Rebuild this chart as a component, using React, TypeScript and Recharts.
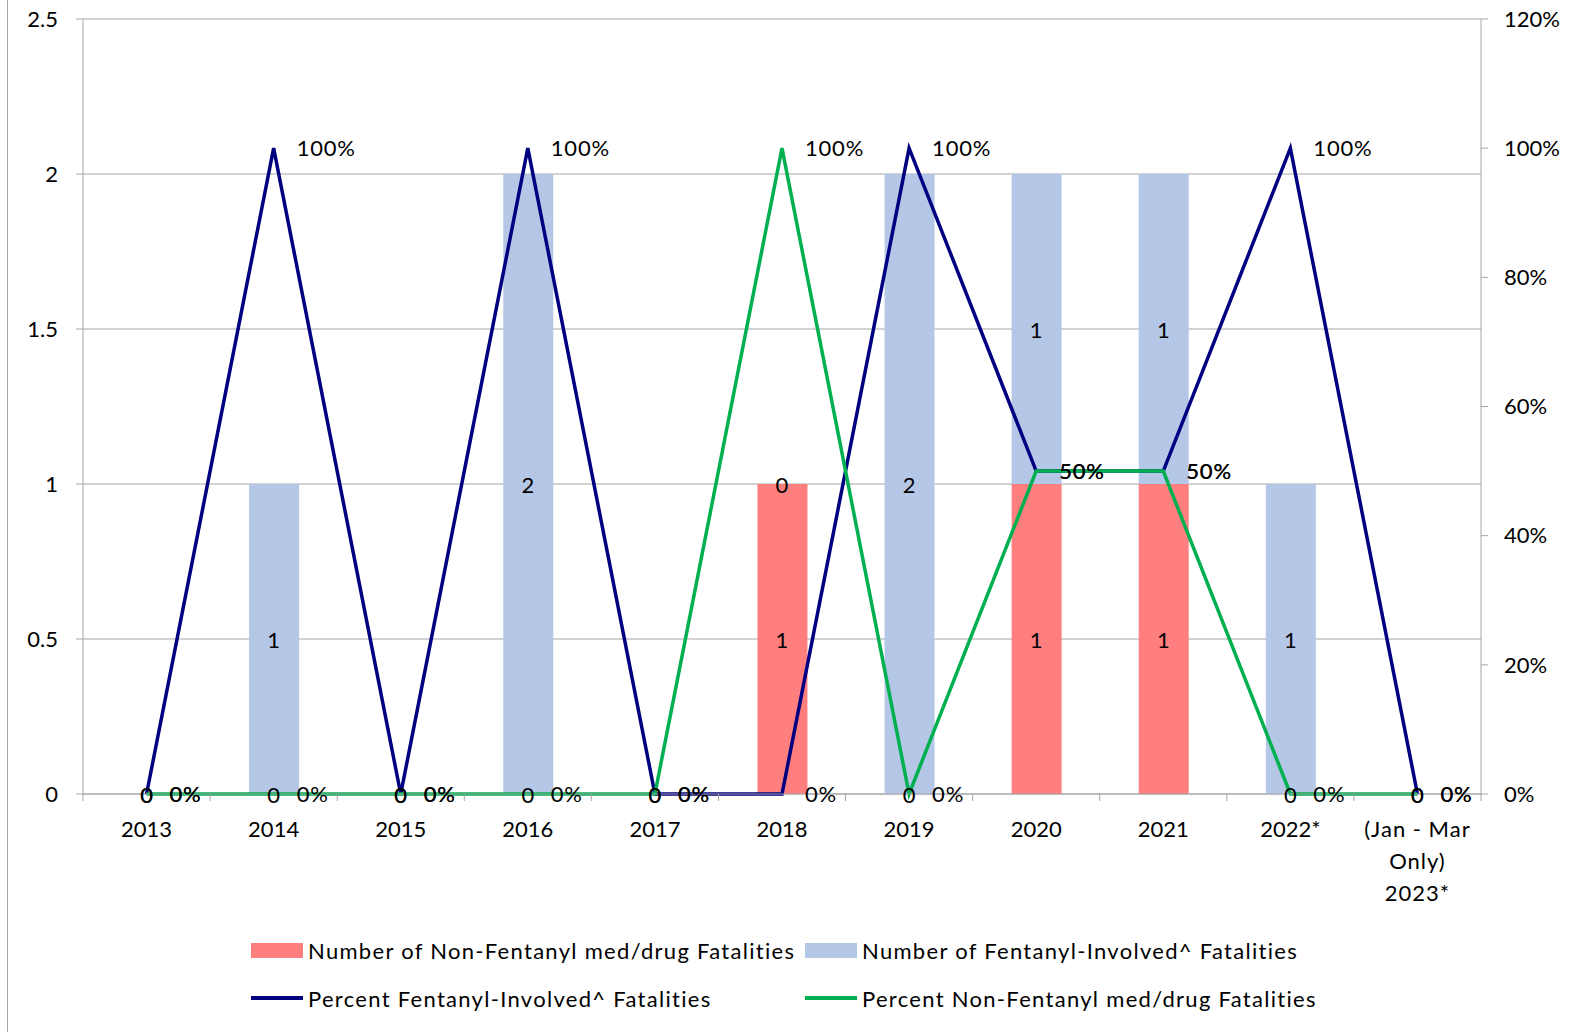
import React from 'react';
import {
  ComposedChart,
  Bar,
  Line,
  XAxis,
  YAxis,
  CartesianGrid,
  LabelList,
} from 'recharts';

// categories and series
const years = ['2013', '2014', '2015', '2016', '2017', '2018', '2019', '2020', '2021', '2022*', '(Jan - Mar\nOnly)\n2023*'];
const nonFentanylCount = [0, 0, 0, 0, 0, 1, 0, 1, 1, 0, 0];
const fentanylCount = [0, 1, 0, 2, 0, 0, 2, 1, 1, 1, 0];
const pctFentanyl = [0, 1, 0, 1, 0, 0, 1, 0.5, 0.5, 1, 0];
const pctNonFentanyl = [0, 0, 0, 0, 0, 1, 0, 0.5, 0.5, 0, 0];

const leftTicks = [0, 0.5, 1, 1.5, 2, 2.5];
const rightTicks = [0, 0.2, 0.4, 0.6, 0.8, 1, 1.2];

const W = 1583;
const H = 1032;
const LEFT_W = 83;
const RIGHT_W = 102;
const BAND = (W - LEFT_W - RIGHT_W) / years.length;

const RED = '#FF7F7F';
const BLUE = '#B4C7E7';
const NAVY = '#000080';
const GREEN = '#00B050';
const GRID = '#A6A6A6';
const FONT = 22;

const data = years.map((y, i) => ({
  year: y,
  nonFent: nonFentanylCount[i],
  fent: fentanylCount[i],
  pctFent: pctFentanyl[i],
  pctNonFent: pctNonFentanyl[i],
}));

const pct = (v: number) => `${Math.round(v * 100)}%`;

const XTick = (props: any) => {
  const { x, y, payload, index } = props;
  const lines = String(payload.value).split('\n');
  return (
    <g>
      <line x1={x - BAND / 2} x2={x - BAND / 2} y1={y} y2={y + 7} stroke={GRID} />
      {index === years.length - 1 && (
        <line x1={x + BAND / 2} x2={x + BAND / 2} y1={y} y2={y + 7} stroke={GRID} />
      )}
      {lines.map((l, i) => (
        <text
          key={i}
          x={x}
          y={y + 34 + i * 32}
          textAnchor="middle"
          dominantBaseline="central"
          fill="#000"
          fontSize={FONT}
          letterSpacing={lines.length > 1 ? 1 : 0}
        >
          {l}
        </text>
      ))}
    </g>
  );
};

// centred value at a point (used for the bar segment labels)
const PointValue = (props: any) => {
  const { x, y, value } = props;
  return (
    <text x={x} y={y} textAnchor="middle" dominantBaseline="central" fill="#000" fontSize={FONT}>
      {value}
    </text>
  );
};

const PctValue = (props: any) => {
  const { x, y, value } = props;
  return (
    <text x={x + 23} y={y - 1} textAnchor="start" dominantBaseline="central" fill="#000" fontSize={FONT} letterSpacing={0.8}>
      {pct(value)}
    </text>
  );
};

const LegendItem = ({ color, label, kind, left, top }: any) => (
  <div style={{ position: 'absolute', left, top, height: 30, display: 'flex', alignItems: 'center', whiteSpace: 'nowrap' }}>
    <div
      style={{
        width: 52,
        height: kind === 'bar' ? 15 : 4,
        background: color,
        marginRight: 5,
      }}
    />
    <span style={{ fontSize: FONT, color: '#000', letterSpacing: 1.3 }}>{label}</span>
  </div>
);

export default function App() {
  return (
    <div style={{ position: 'absolute', left: 0, top: 0, width: W, height: H, background: '#fff', fontFamily: 'Lato, sans-serif' }}>
      <div style={{ position: 'absolute', left: 7, top: 0, width: 1, height: H, background: GRID }} />
      <ComposedChart
        width={W}
        height={H}
        data={data}
        margin={{ top: 19, right: 0, left: 0, bottom: 118 }}
        style={{ fontFamily: 'Lato, sans-serif' }}
      >
        <CartesianGrid yAxisId="left" vertical={false} stroke={GRID} />
        <XAxis
          dataKey="year"
          interval={0}
          height={120}
          tickLine={false}
          tickSize={0}
          tickMargin={0}
          axisLine={{ stroke: GRID }}
          tick={<XTick />}
        />
        <YAxis
          yAxisId="left"
          width={LEFT_W}
          domain={[0, 2.5]}
          ticks={leftTicks}
          interval={0}
          tickSize={7}
          tickMargin={18}
          axisLine={{ stroke: GRID }}
          tickLine={{ stroke: GRID }}
          tick={{ fill: '#000', fontSize: FONT }}
        />
        <YAxis
          yAxisId="right"
          orientation="right"
          width={RIGHT_W}
          domain={[0, 1.2]}
          ticks={rightTicks}
          interval={0}
          tickSize={7}
          tickMargin={16}
          tickFormatter={pct}
          axisLine={{ stroke: GRID }}
          tickLine={{ stroke: GRID }}
          tick={{ fill: '#000', fontSize: FONT, textAnchor: 'start' }}
        />

        <Bar yAxisId="left" dataKey="nonFent" stackId="a" fill={RED} barSize={50} isAnimationActive={false} />
        <Bar yAxisId="left" dataKey="fent" stackId="a" fill={BLUE} barSize={50} isAnimationActive={false} />

        <Line yAxisId="right" type="linear" dataKey="pctFent" stroke={NAVY} strokeWidth={3.5} dot={false} isAnimationActive={false}>
          <LabelList dataKey="pctFent" content={<PctValue />} />
        </Line>
        <Line yAxisId="right" type="linear" dataKey="pctNonFent" stroke={GREEN} strokeWidth={3.5} dot={false} isAnimationActive={false}>
          <LabelList dataKey="pctNonFent" content={<PctValue />} />
        </Line>

        {/* bar labels sit in the middle of each stacked segment, zeros included */}
        <Line
          yAxisId="left"
          dataKey={(d: any) => d.nonFent / 2}
          stroke="none"
          dot={false}
          activeDot={false}
          legendType="none"
          isAnimationActive={false}
        >
          <LabelList dataKey="nonFent" content={<PointValue />} />
        </Line>
        <Line
          yAxisId="left"
          dataKey={(d: any) => d.nonFent + d.fent / 2}
          stroke="none"
          dot={false}
          activeDot={false}
          legendType="none"
          isAnimationActive={false}
        >
          <LabelList dataKey="fent" content={<PointValue />} />
        </Line>
      </ComposedChart>

      <LegendItem kind="bar" color={RED} label="Number of Non-Fentanyl med/drug Fatalities" left={251} top={935} />
      <LegendItem kind="bar" color={BLUE} label="Number of Fentanyl-Involved^ Fatalities" left={805} top={935} />
      <LegendItem kind="line" color={NAVY} label="Percent Fentanyl-Involved^ Fatalities" left={251} top={983} />
      <LegendItem kind="line" color={GREEN} label="Percent Non-Fentanyl med/drug Fatalities" left={805} top={983} />
    </div>
  );
}
